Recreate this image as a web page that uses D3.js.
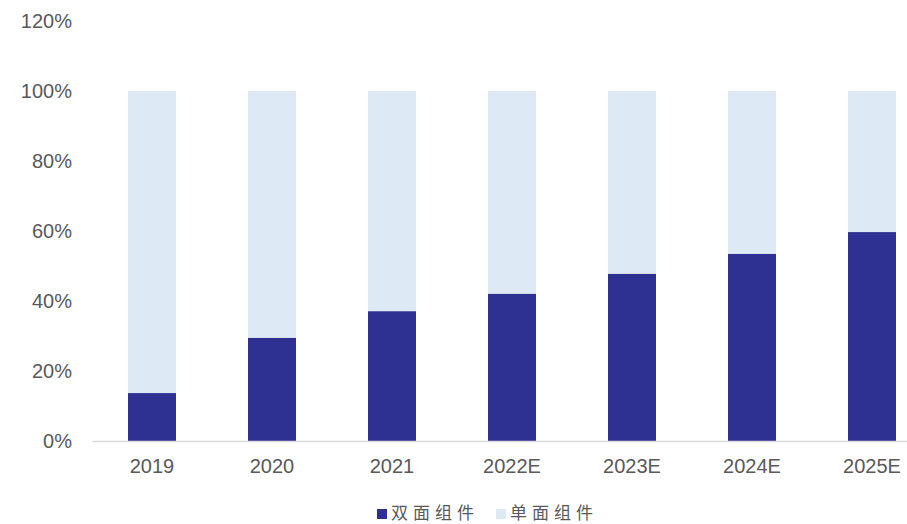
<!DOCTYPE html>
<html>
<head>
<meta charset="utf-8">
<script src="https://cdn.jsdelivr.net/npm/d3@7"></script>
<style>
  html, body { margin: 0; padding: 0; background: #fff; }
  svg { display: block; }
</style>
</head>
<body>
<svg id="chart" width="907" height="524"></svg>
<script>
// Share of module types by year (%)
const years = ["2019", "2020", "2021", "2022E", "2023E", "2024E", "2025E"];
const bifacial = [13.7, 29.5, 37.1, 42.1, 47.8, 53.5, 59.7];   // 双面组件
const monofacial = bifacial.map(v => 100 - v);                  // 单面组件
const yTicks = [0, 20, 40, 60, 80, 100, 120];
const seriesNames = ["双面组件", "单面组件"];
const seriesColors = ["#2e3192", "#dde9f5"];

const svg = d3.select("#chart");
const margin = { left: 92, top: 21, bottom: 441 };
const plotRight = 932;

const x = d3.scaleBand().domain(years).range([margin.left, plotRight]).paddingInner(0.6).paddingOuter(0.3);
const y = d3.scaleLinear().domain([0, 120]).range([margin.bottom, margin.top]);

const rows = years.map((yr, i) => ({ year: yr, b: bifacial[i], m: monofacial[i] }));
const stacked = d3.stack().keys(["b", "m"])(rows);

svg.append("g").selectAll("g").data(stacked).join("g")
  .attr("fill", (d, i) => seriesColors[i])
  .selectAll("rect").data(d => d).join("rect")
  .attr("x", d => x(d.data.year))
  .attr("width", x.bandwidth())
  .attr("y", d => y(d[1]))
  .attr("height", d => y(d[0]) - y(d[1]));

// Y axis labels (no axis line)
const yAxis = svg.append("g").attr("transform", "translate(72,0)")
  .call(d3.axisLeft(y).tickValues(yTicks).tickFormat(d => d + "%").tickSize(0).tickPadding(0));
yAxis.select(".domain").remove();
yAxis.selectAll("text")
  .attr("font-family", "Liberation Sans, Arial, sans-serif")
  .attr("font-size", 20)
  .attr("fill", "#595959");

// X axis
const xAxis = svg.append("g").attr("transform", `translate(0,${y(0)})`)
  .call(d3.axisBottom(x).tickSize(0).tickPadding(18));
xAxis.select(".domain").attr("stroke", "#d9d9d9").attr("stroke-width", 1.5);
xAxis.selectAll("text")
  .attr("font-family", "Liberation Sans, Arial, sans-serif")
  .attr("font-size", 20)
  .attr("fill", "#595959");

// Legend
const legendX = [377, 496];
const legend = svg.append("g");
seriesNames.forEach((name, i) => {
  legend.append("rect")
    .attr("x", legendX[i]).attr("y", 509)
    .attr("width", 10).attr("height", 10)
    .attr("fill", seriesColors[i]);
  legend.append("text")
    .attr("x", legendX[i] + 14).attr("y", 519)
    .attr("font-family", "Noto Sans CJK SC, sans-serif")
    .attr("font-size", 17)
    .attr("letter-spacing", 5)
    .attr("fill", "#595959")
    .text(name);
});
</script>
</body>
</html>
